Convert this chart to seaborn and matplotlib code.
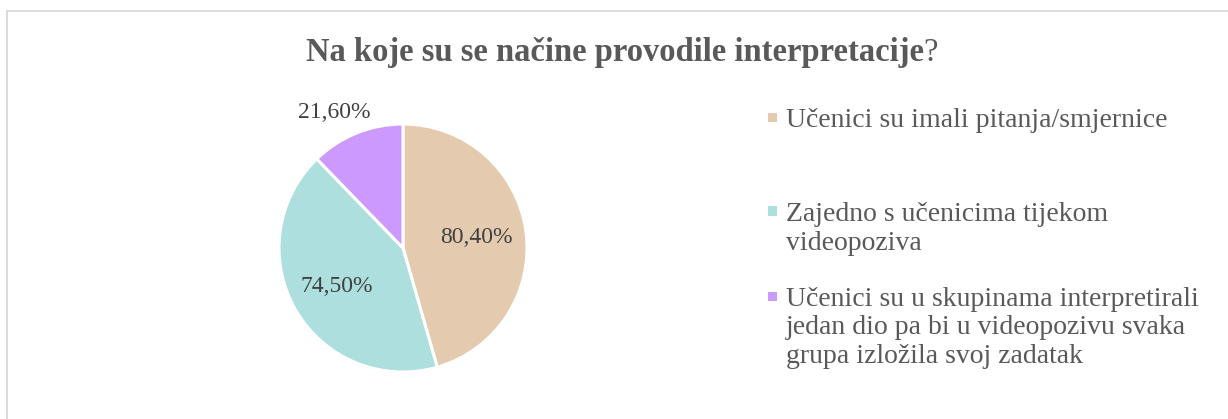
import matplotlib
matplotlib.use("Agg")
import matplotlib.pyplot as plt
from matplotlib.patches import Rectangle
from matplotlib.lines import Line2D
import numpy as np
import seaborn as sns

categories = [
    "Učenici su imali pitanja/smjernice",
    "Zajedno s učenicima tijekom\nvideopoziva",
    "Učenici su u skupinama interpretirali\njedan dio pa bi u videopozivu svaka\ngrupa izložila svoj zadatak",
]
values = [80.4, 74.5, 21.6]
value_labels = ["80,40%", "74,50%", "21,60%"]
colors = ["#E4CBB0", "#ACDFDD", "#CC99FF"]

sns.set_theme(style="white")
plt.rcParams["font.family"] = ["Liberation Serif", "DejaVu Serif"]

W, H = 1228, 419
fig = plt.figure(figsize=(W / 100, H / 100), dpi=100)
fig.patch.set_facecolor("white")

# chart frame (top and left edges visible)
fig.add_artist(Line2D([6.5 / W, 6.5 / W], [0, 1 - 11.5 / H], color="#D9D9D9", lw=1.3))
fig.add_artist(Line2D([6.5 / W, 1], [1 - 11.5 / H, 1 - 11.5 / H], color="#D9D9D9", lw=1.3))

# title: bold question, regular question mark
title_main = "Na koje su se načine provodile interpretacije"
fig.canvas.draw()
r = fig.canvas.get_renderer()
tb = fig.text(0, 0, title_main, fontsize=23.5, fontweight="bold", color="#595959", va="baseline")
tq = fig.text(0, 0, "?", fontsize=23.5, color="#595959", va="baseline")
wb = tb.get_window_extent(r).width
wq = tq.get_window_extent(r).width
x0 = (622 - (wb + wq) / 2) / W
tb.set_position((x0, 1 - 61 / H))
tq.set_position((x0 + wb / W, 1 - 61 / H))

# pie axes
cx, cy, rad = 403, 248, 124
ax = fig.add_axes([(cx - rad) / W, (H - cy - rad) / H, 2 * rad / W, 2 * rad / H])
wedges, _ = ax.pie(values, colors=colors, startangle=90, counterclock=False,
                   wedgeprops=dict(edgecolor="white", linewidth=2.2))
ax.set_xlim(-1, 1)
ax.set_ylim(-1, 1)
ax.set_aspect("equal")
ax.axis("off")

# value labels: two inside, the small slice outside
for i, (w, lab) in enumerate(zip(wedges, value_labels)):
    ang = np.deg2rad((w.theta1 + w.theta2) / 2)
    if i < 2:
        d = 0.6 if i == 0 else 0.62
        ax.text(d * np.cos(ang), d * np.sin(ang), lab, ha="center", va="center",
                fontsize=17, color="#404040")
    else:
        ax.annotate(lab, (np.cos(ang), np.sin(ang)), xytext=(-16, 15),
                    textcoords="offset points", ha="center", va="center",
                    fontsize=17, color="#404040")

# legend
line_h = 28.5
baselines = [127, 221, 306]
for lab, c, yb in zip(categories, colors, baselines):
    fig.add_artist(Rectangle((768 / W, (H - yb + 5) / H), 9.5 / W, 9.5 / H,
                             facecolor=c, edgecolor="none", transform=fig.transFigure))
    for k, line in enumerate(lab.split("\n")):
        fig.text(786 / W, 1 - (yb + k * line_h) / H, line, ha="left", va="baseline",
                 fontsize=20, color="#595959")

fig.savefig("out.png", dpi=100, facecolor="white")
